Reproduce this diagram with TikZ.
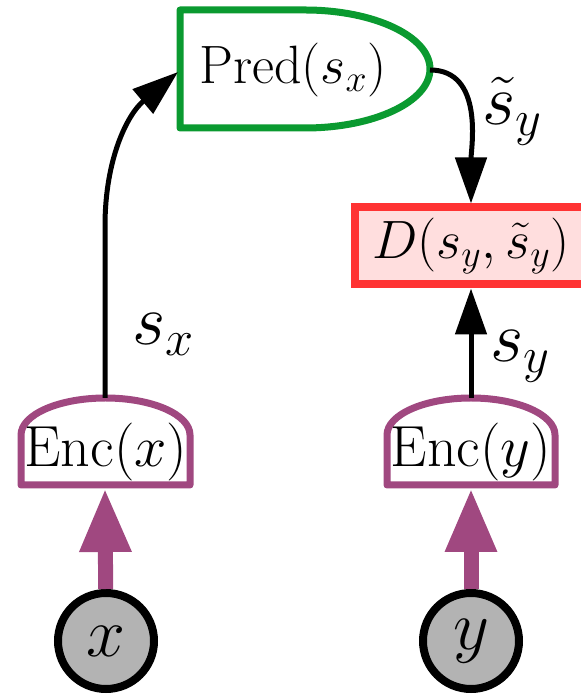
\documentclass[tikz,border=0pt]{standalone}
\usepackage{fix-cm}
\usepackage{tikz}
\usetikzlibrary{calc, arrows.meta}
\definecolor{EncColour}{RGB}{160,72,128}
\definecolor{PredColour}{RGB}{10,154,48}
\definecolor{DistColour}{RGB}{255,51,51}
\definecolor{DistFill}{RGB}{255,222,222}
\definecolor{obsgrey}{RGB}{179,179,179}

\begin{document}
\begin{tikzpicture}[
  x=0.5pt, y=0.5pt,
  every node/.style={inner sep=0pt},
  txt/.style={font=\fontsize{27}{32}\selectfont},
  lbl/.style={font=\fontsize{36}{42}\selectfont},
  obs/.style={circle, draw=black, fill=obsgrey, line width=4pt, minimum size=48pt, font=\fontsize{35}{40}\selectfont},
  encline/.style={draw=EncColour, line width=3.5pt, line join=round},
  predline/.style={draw=PredColour, line width=3.5pt, line join=round},
  distbox/.style={draw=DistColour, fill=DistFill, line width=4pt, minimum width=116pt, minimum height=38.5pt, txt},
  flow/.style={-{Triangle[length=23pt,width=15.5pt]}, line width=2.5pt},
  feed/.style={-{Triangle[length=32pt,width=24pt]}, draw=EncColour, line width=7.5pt},
]
\useasboundingbox (0,0) rectangle (581,696);

% Predictor
\draw[predline] (180,686) -- (305,686) arc[start angle=90, end angle=-90, x radius=125, y radius=59] -- (180,568) -- cycle;
\node[txt] (pred) at (293,626) {Pred$(s_x)$};
\coordinate (pred-in) at (178,624);
\coordinate (pred-out) at (430,626);

% Encoders
\draw[encline] (21,211) -- (21,261) arc[start angle=180, end angle=0, x radius=84.5, y radius=37] -- (190,211) -- cycle;
\node[txt, font=\fontsize{29}{34}\selectfont] (encx) at (106,244) {Enc$(x)$};
\draw[encline] (387,211) -- (387,261) arc[start angle=180, end angle=0, x radius=84, y radius=37] -- (555,211) -- cycle;
\node[txt, font=\fontsize{29}{34}\selectfont] (ency) at (471,244) {Enc$(y)$};
\coordinate (encx-top) at (105,298);
\coordinate (ency-top) at (471,298);
\coordinate (encx-bot) at (105,208);
\coordinate (ency-bot) at (471,208);
\coordinate (encx-bend) at (105,470);

% Distance
\node[distbox] (dist) at (471,450) {$D(s_y,\tilde{s}_y)$};

% Inputs
\node[obs] (xobs) at (106,55) {$x$};
\node[obs] (yobs) at (471,55) {$y$};

% Arrows
\draw[feed] (xobs) -- (encx-bot);
\draw[feed] (yobs) -- (ency-bot);
\draw[flow] (encx-top) -- (encx-bend) to[out=90, in=-140] (pred-in);
\draw[flow] (pred-out) to[out=0, in=90] (dist.north);
\draw[flow] (ency-top) -- (dist.south);

% Labels
\node[lbl, anchor=base west] (sx) at (132,351) {$s_x$};
\node[lbl, anchor=base west] (sy) at (490,334) {$s_y$};
\node[lbl, anchor=base west] (sty) at (482,571) {$\tilde{s}_y$};

\end{tikzpicture}
\end{document}
